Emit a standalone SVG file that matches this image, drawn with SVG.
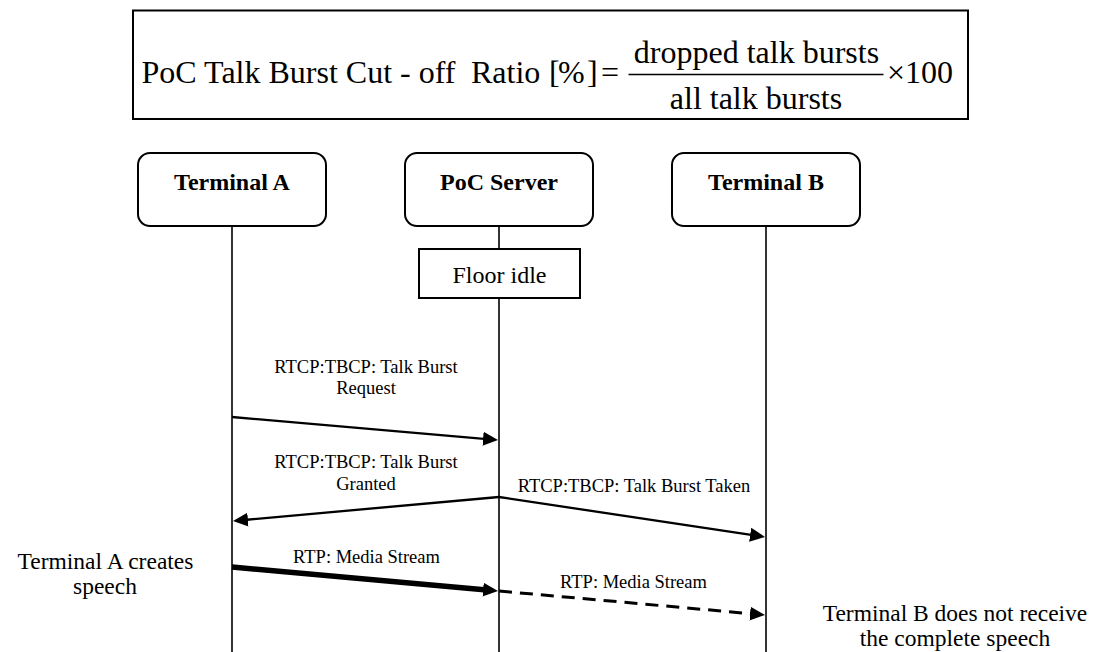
<svg xmlns="http://www.w3.org/2000/svg" width="1093" height="652" viewBox="0 0 1093 652">
  <style>
    .t { font-family: "Liberation Serif", "Times New Roman", serif; fill: #000; }
    .f { font-size: 32px; }
    .title { font-size: 24px; font-weight: bold; text-anchor: middle; }
    .state { font-size: 24px; text-anchor: middle; }
    .lbl { font-size: 18.5px; text-anchor: middle; }
    .note { font-size: 23.5px; text-anchor: middle; }
    .box { fill: #fff; stroke: #000; stroke-width: 2; }
    .life { stroke: #000; stroke-width: 1.6; fill: none; }
    .msg { stroke: #000; stroke-width: 2.3; fill: none; }
    .thick { stroke: #000; stroke-width: 5.5; fill: none; }
    .dash { stroke: #000; stroke-width: 3; fill: none; stroke-dasharray: 13 8; }
  </style>
  <defs>
    <marker id="head" markerUnits="userSpaceOnUse" markerWidth="18" markerHeight="18" refX="1" refY="9" orient="auto" viewBox="0 0 18 18">
      <path d="M0,2 L15,9 L0,16 z" fill="#000"/>
    </marker>
  </defs>
  <rect width="1093" height="652" fill="#fff"/>

  <g id="formula">
    <rect x="133" y="10.5" width="835" height="108.5" fill="#fff" stroke="#000" stroke-width="2"/>
    <text class="t f" x="141.5" y="83">PoC Talk Burst Cut - off<tspan x="471">Ratio</tspan><tspan x="549">[</tspan><tspan x="558">%</tspan><tspan x="587">]</tspan><tspan x="601">=</tspan></text>
    <text class="t f" x="756.5" y="63" text-anchor="middle">dropped talk bursts</text>
    <line x1="628.5" y1="74.5" x2="883.5" y2="74.5" stroke="#000" stroke-width="1.5"/>
    <text class="t f" x="756" y="109" text-anchor="middle">all talk bursts</text>
    <text class="t f" x="887" y="83">×100</text>
  </g>

  <g id="lifelines">
    <line class="life" x1="232" y1="226" x2="232" y2="652"/>
    <line class="life" x1="499" y1="226" x2="499" y2="652"/>
    <line class="life" x1="766" y1="226" x2="766" y2="652"/>
  </g>

  <g id="terminal-a">
    <rect class="box" x="138" y="153" width="188" height="73" rx="12" ry="12"/>
    <text class="t title" x="232" y="190">Terminal A</text>
  </g>
  <g id="poc-server">
    <rect class="box" x="405" y="153" width="188" height="73" rx="12" ry="12"/>
    <text class="t title" x="499" y="190">PoC Server</text>
  </g>
  <g id="terminal-b">
    <rect class="box" x="672" y="153" width="188" height="73" rx="12" ry="12"/>
    <text class="t title" x="766" y="190">Terminal B</text>
  </g>
  <g id="floor-idle">
    <rect class="box" x="419" y="249" width="161" height="49"/>
    <text class="t state" x="499.5" y="282.5">Floor idle</text>
  </g>

  <g id="connectors">
    <line class="msg" x1="232" y1="417" x2="484.05" y2="438.79" marker-end="url(#head)"/>
    <line class="msg" x1="499" y1="497" x2="246.94" y2="519.74" marker-end="url(#head)"/>
    <line class="msg" x1="499" y1="497" x2="751.16" y2="534.92" marker-end="url(#head)"/>
    <line class="thick" x1="232" y1="567" x2="484.06" y2="589.74" marker-end="url(#head)"/>
    <line class="dash" x1="499" y1="591" x2="751.06" y2="613.74" marker-end="url(#head)"/>
  </g>

  <g id="labels">
    <text class="t lbl" x="366" y="372.5">RTCP:TBCP: Talk Burst<tspan x="366" y="394">Request</tspan></text>
    <text class="t lbl" x="366" y="468">RTCP:TBCP: Talk Burst<tspan x="366" y="490">Granted</tspan></text>
    <text class="t lbl" x="634" y="491.5">RTCP:TBCP: Talk Burst Taken</text>
    <text class="t lbl" x="366.5" y="563">RTP: Media Stream</text>
    <text class="t lbl" x="633.5" y="588">RTP: Media Stream</text>
  </g>

  <g id="note-a">
    <text class="t note" x="105.5" y="569">Terminal A creates<tspan x="105" y="594">speech</tspan></text>
  </g>
  <g id="note-b">
    <text class="t note" x="955" y="621">Terminal B does not receive<tspan x="955" y="646">the complete speech</tspan></text>
  </g>
</svg>
